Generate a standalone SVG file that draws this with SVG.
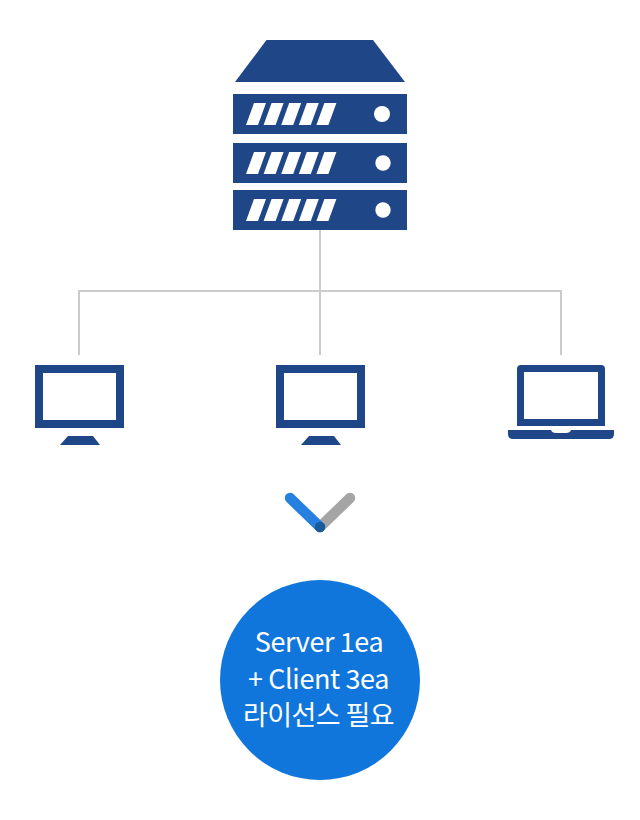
<svg xmlns="http://www.w3.org/2000/svg" width="640" height="820" viewBox="0 0 640 820">
<style>
.i{fill:#1f4788}
.w{fill:#fff}
.c{fill:none;stroke:#ccc;stroke-width:2}
.t{fill:#fff;font-family:"Noto Sans CJK KR","Noto Sans",sans-serif;font-size:27px;font-weight:400;text-anchor:middle;letter-spacing:-0.4px}
.k{letter-spacing:-0.6px}
</style>
<defs>
<g id="slashes">
<polygon class="w" points="246,22 258,22 266,0 254,0"/>
<polygon class="w" points="263.600,22 275.600,22 283.600,0 271.600,0"/>
<polygon class="w" points="281.200,22 293.200,22 301.200,0 289.200,0"/>
<polygon class="w" points="298.800,22 310.800,22 318.800,0 306.800,0"/>
<polygon class="w" points="316.400,22 328.400,22 336.400,0 324.400,0"/>
</g>
<g id="monitor">
<path class="i" fill-rule="evenodd" d="M35 365H124V428H35ZM43 373V420H116V373Z"/>
<polygon class="i" points="68,436 93,436 100,445 60,445"/>
</g>
</defs>
<g id="connectors">
<path class="c" d="M320 230V355M79 355V291H561V355"/>
</g>
<g id="server">
<polygon class="i" points="266.500,40 373,40 405,82 235,82"/>
<rect class="i" x="233" y="94" width="174" height="40"/>
<rect class="i" x="233" y="143" width="174" height="40"/>
<rect class="i" x="233" y="190" width="174" height="40"/>
<use href="#slashes" y="103"/>
<use href="#slashes" y="152"/>
<use href="#slashes" y="199"/>
<circle class="w" cx="382" cy="114" r="8"/>
<circle class="w" cx="383" cy="163" r="7.700"/>
<circle class="w" cx="383" cy="210" r="7.700"/>
</g>
<g id="client-1"><use href="#monitor"/></g>
<g id="client-2"><use href="#monitor" x="241"/></g>
<g id="client-3">
<path class="i" fill-rule="evenodd" d="M521 365H601Q605 365 605 369V426H517V369Q517 365 521 365ZM524 372V419H598V372Z"/>
<path class="i" d="M508 430H551Q552 433 556 433H566Q570 433 571 430H614V434Q614 439 609 439H513Q508 439 508 434Z"/>
</g>
<g id="chevron" fill="none" stroke-width="10.500" stroke-linecap="round">
<path stroke="#a5a5a5" d="M350 498L320 527"/>
<path stroke="#2680e0" d="M290 498L320 527"/>
<circle cx="320" cy="527" r="5.250" fill="#1a5c99" stroke="none"/>
</g>
<g id="license">
<circle cx="320" cy="680" r="100" fill="#1076db"/>
<text class="t" x="319" y="652">Server 1ea</text>
<text class="t" x="318.500" y="689">+ Client 3ea</text>
<text class="t k" x="318.500" y="725">라이선스 필요</text>
</g>
</svg>
